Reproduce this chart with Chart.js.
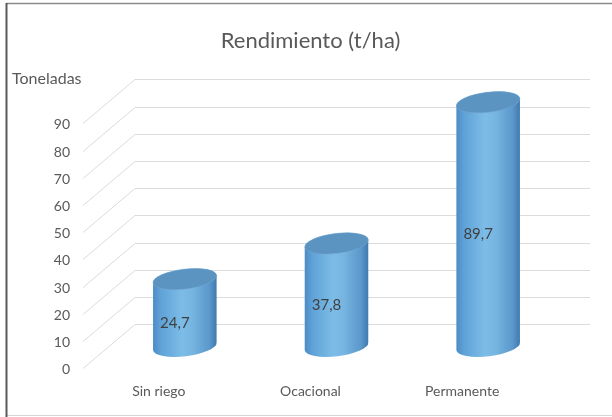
<!DOCTYPE html>
<html>
<head>
<meta charset="utf-8">
<script src="https://cdn.jsdelivr.net/npm/chart.js@4/dist/chart.umd.min.js"></script>
<style>
html,body{margin:0;padding:0;background:#fff;}
#wrap{width:612px;height:417px;position:relative;}
</style>
</head>
<body>
<div id="wrap"><canvas id="c" width="612" height="417"></canvas></div>
<script>
const categories = ['Sin riego', 'Ocacional', 'Permanente'];
const values = [24.7, 37.8, 89.7];
const yTickValues = [0, 10, 20, 30, 40, 50, 60, 70, 80, 90];
const chartTitle = 'Rendimiento (t/ha)';
const yAxisTitle = 'Toneladas';

const FONT = 'Lato, "Noto Sans", sans-serif';
const DX = 52, DY = -44;          // depth offset (front -> back wall)
const TEXT = '#595959';

function fmt(v){ return String(v).replace('.', ','); }

const pseudo3D = {
  id: 'pseudo3D',
  beforeDraw(chart){
    const ctx = chart.ctx;
    ctx.save();
    ctx.fillStyle = '#fff';
    ctx.fillRect(0, 0, chart.width, chart.height);
    ctx.strokeStyle = '#8a8a8a'; ctx.lineWidth = 1.5;
    ctx.beginPath(); ctx.moveTo(6, 3.5); ctx.lineTo(612, 3.5); ctx.stroke();
    ctx.strokeStyle = '#d4d4d4'; ctx.lineWidth = 1;
    ctx.beginPath(); ctx.moveTo(6, 415.5); ctx.lineTo(612, 415.5); ctx.stroke();
    ctx.strokeStyle = '#5a5a5a'; ctx.lineWidth = 2;
    ctx.beginPath(); ctx.moveTo(6.5, 3); ctx.lineTo(6.5, 417); ctx.stroke();
    ctx.restore();
  },
  beforeDatasetsDraw(chart){
    const {ctx, chartArea, scales} = chart;
    const {left, right, bottom} = chartArea;
    const x = scales.x, y = scales.y;
    ctx.save();
    ctx.strokeStyle = '#dcdcdc';
    ctx.lineWidth = 1;
    y.ticks.forEach(t => {
      const py = Math.round(y.getPixelForValue(t.value)) + 0.5;
      ctx.beginPath();
      ctx.moveTo(left, py);
      ctx.lineTo(left + DX, py + DY);
      ctx.lineTo(right + DX, py + DY);
      ctx.stroke();
    });
    ctx.fillStyle = TEXT;
    ctx.font = '14px ' + FONT;
    ctx.textAlign = 'right';
    ctx.textBaseline = 'middle';
    y.ticks.forEach(t => {
      const py = y.getPixelForValue(t.value);
      ctx.fillText(String(t.value), left - 13, py + 1.5);
    });
    ctx.textAlign = 'left';
    ctx.font = '16px ' + FONT;
    ctx.fillText(yAxisTitle, 12, 79);
    ctx.textAlign = 'center';
    ctx.font = '14px ' + FONT;
    categories.forEach((c, i) => {
      ctx.fillText(c, x.getPixelForValue(i), bottom + 23.5);
    });
    ctx.restore();
  },
  afterDatasetsDraw(chart){
    const ctx = chart.ctx;
    const meta = chart.getDatasetMeta(0);
    const rot = -0.12;
    meta.data.forEach((el, i) => {
      const p = el.getProps(['x', 'y', 'base', 'width'], true);
      const cx = p.x + DX / 2;
      const top = p.y + DY / 2;
      const base = p.base + DY / 2;
      const a = p.width / 2, b = 10;
      ctx.save();
      const g = ctx.createLinearGradient(cx - a, 0, cx + a, 0);
      g.addColorStop(0, '#4a8bc4');
      g.addColorStop(0.12, '#5fa2d7');
      g.addColorStop(0.45, '#7cbce7');
      g.addColorStop(0.6, '#78b6e2');
      g.addColorStop(0.88, '#5b98cc');
      g.addColorStop(1, '#3f79ad');
      ctx.fillStyle = g;
      ctx.beginPath();
      ctx.ellipse(cx, top, a, b, rot, Math.PI, 0, false);
      ctx.ellipse(cx, base, a, b, rot, 0, Math.PI, false);
      ctx.closePath();
      ctx.fill();
      // top face
      ctx.beginPath();
      ctx.ellipse(cx, top, a, b, rot, 0, Math.PI * 2);
      ctx.fillStyle = '#5b93c1';
      ctx.fill();
      ctx.strokeStyle = 'rgba(120,170,210,0.6)';
      ctx.lineWidth = 0.8;
      ctx.stroke();
      // data label
      ctx.fillStyle = '#404040';
      ctx.font = '15px ' + FONT;
      ctx.textAlign = 'center';
      ctx.textBaseline = 'middle';
      ctx.fillText(fmt(values[i]), cx - 10, (top + base) / 2 + 10);
      ctx.restore();
    });
  }
};

new Chart(document.getElementById('c'), {
  type: 'bar',
  data: {
    labels: categories,
    datasets: [{
      label: chartTitle,
      data: values,
      backgroundColor: 'rgba(0,0,0,0)',
      borderWidth: 0,
      barThickness: 64
    }]
  },
  options: {
    responsive: false,
    animation: false,
    layout: { padding: { left: 83, right: 74, top: 0, bottom: 48.7 } },
    plugins: {
      legend: { display: false },
      tooltip: { enabled: false },
      title: {
        display: true,
        text: chartTitle,
        color: TEXT,
        font: { family: FONT, size: 22, weight: 'normal', lineHeight: 1.2 },
        padding: { top: 28, bottom: 69 }
      }
    },
    scales: {
      x: { display: false, offset: true },
      y: {
        display: false,
        min: 0, max: 90,
        afterBuildTicks(scale){ scale.ticks = yTickValues.map(v => ({ value: v })); }
      }
    }
  },
  plugins: [pseudo3D]
});
</script>
</body>
</html>
